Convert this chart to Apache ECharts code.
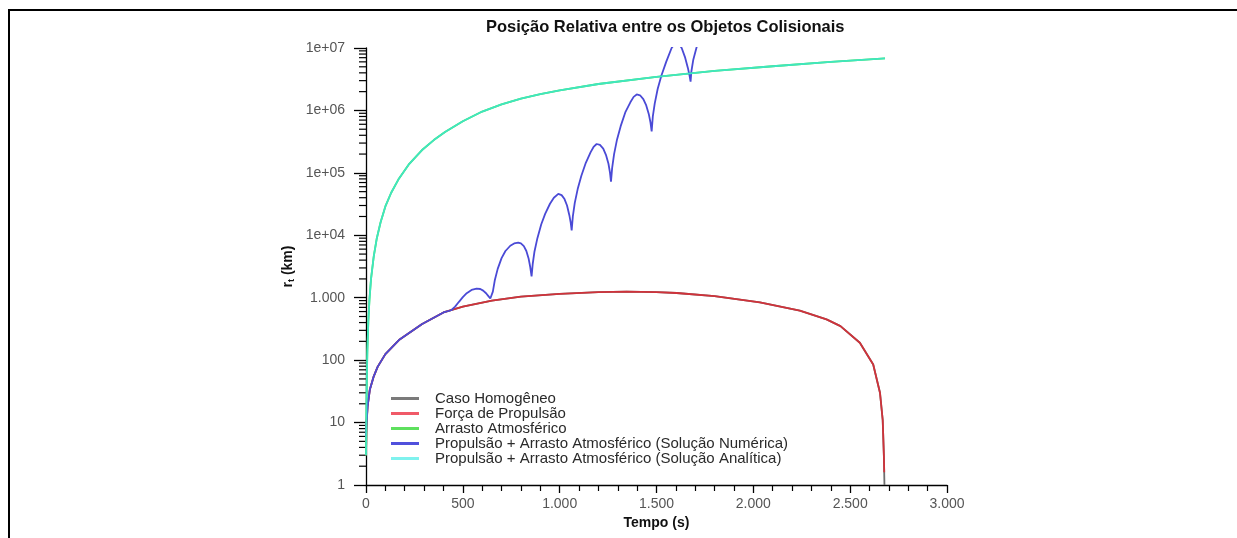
<!DOCTYPE html>
<html>
<head>
<meta charset="utf-8">
<script src="https://cdn.jsdelivr.net/npm/echarts@6/dist/echarts.min.js"></script>
<style>
  html, body { margin: 0; padding: 0; background: #fff; }
  #chart { width: 1237px; height: 538px; }
</style>
</head>
<body>
<div id="chart"></div>
<script>
// Tempo (s) e distância relativa r_t (km) de cada caso
const homogeneoT = [0, 2, 8, 20, 40, 60, 100, 170, 290, 400, 500, 650, 800, 1000, 1200, 1346, 1500, 1604, 1800, 2034, 2240, 2378, 2450, 2550, 2619, 2654, 2668, 2674, 2677];
const homogeneoV = [3, 8, 18, 34, 55, 78, 125, 210, 380, 580, 720, 900, 1040, 1150, 1230, 1250, 1230, 1190, 1060, 840, 620, 450, 350, 190, 85, 30, 11, 3, 1];

const propulsaoT = [0, 2, 8, 20, 40, 60, 100, 170, 290, 400, 500, 650, 800, 1000, 1200, 1346, 1500, 1604, 1800, 2034, 2240, 2378, 2450, 2550, 2619, 2654, 2668, 2674, 2676];
const propulsaoV = [3, 8, 18, 34, 55, 78, 125, 210, 380, 580, 720, 900, 1040, 1150, 1230, 1250, 1230, 1190, 1060, 840, 620, 450, 350, 190, 85, 30, 11, 3, 1.6];

const analiticaT = [0, 1, 2, 4, 7, 12, 18, 26, 40, 55, 75, 100, 130, 167, 220, 288, 350, 408, 500, 600, 700, 800, 900, 1000, 1200, 1500, 1800, 2100, 2400, 2680];
const analiticaV = [3, 5, 12, 45, 140, 420, 950, 2000, 4600, 8700, 16000, 29000, 48000, 78000, 135000, 230000, 335000, 450000, 670000, 960000, 1250000, 1550000, 1820000, 2100000, 2650000, 3450000, 4300000, 5100000, 6000000, 6800000];

const arrastoT = analiticaT.slice();
const arrastoV = analiticaV.slice();

const numericaT = [0, 2, 8, 20, 40, 60, 100, 170, 290, 400,
  440, 460, 480, 500, 520, 545, 571, 590, 605, 620, 632, 642,
  649, 655, 665, 680, 700, 720, 745, 765, 786, 800, 815, 828, 840, 848,
  855, 861, 870, 885, 905, 925, 950, 970, 993, 1010, 1025, 1038, 1050, 1057,
  1062, 1068, 1078, 1093, 1112, 1135, 1160, 1175, 1191, 1208, 1225, 1240, 1252, 1260,
  1265, 1271, 1281, 1296, 1315, 1340, 1365, 1382, 1398, 1415, 1432, 1447, 1460, 1469,
  1475, 1481, 1491, 1506, 1525, 1550, 1578, 1605, 1630, 1648, 1662, 1670,
  1676, 1680, 1690, 1706, 1720];
const numericaV = [6, 9, 18, 34, 55, 78, 125, 210, 380, 580,
  630, 720, 860, 1020, 1180, 1330, 1400, 1380, 1300, 1180, 1060, 970,
  920, 1250, 1900, 2900, 4300, 5600, 6800, 7400, 7600, 7400, 6700, 5600, 4200, 3100,
  2200, 3500, 5500, 9000, 15000, 22000, 32000, 40000, 46000, 44000, 38000, 30000, 21000, 16000,
  12000, 20000, 33000, 55000, 90000, 145000, 215000, 260000, 290000, 280000, 245000, 190000, 140000, 100000,
  72000, 120000, 200000, 340000, 560000, 950000, 1350000, 1650000, 1800000, 1750000, 1520000, 1200000, 880000, 640000,
  460000, 800000, 1300000, 2200000, 3600000, 6000000, 10000000, 13000000, 10000000, 7000000, 4800000, 3700000,
  2900000, 4200000, 6500000, 10000000, 14000000];

const legendNames = [
  'Caso Homogêneo',
  'Força de Propulsão',
  'Arrasto Atmosférico',
  'Propulsão + Arrasto Atmosférico (Solução Numérica)',
  'Propulsão + Arrasto Atmosférico (Solução Analítica)'
];

const yDecades = [1, 10, 100, 1000, 1e4, 1e5, 1e6, 1e7];

function zip(t, v) { return t.map((x, i) => [x, v[i]]); }
function milhar(n) { return String(n).replace(/\B(?=(\d{3})+(?!\d))/g, '.'); }
function yLabel(v) {
  if (v >= 1e4) {
    const e = Math.round(Math.log10(v));
    return '1e+' + (e < 10 ? '0' + e : e);
  }
  return milhar(Math.round(v));
}

const FONT = '"Liberation Sans", Arial, sans-serif';
const chart = echarts.init(document.getElementById('chart'), null, { renderer: 'canvas' });

function lineSeries(name, data, color, z) {
  return {
    name, type: 'line', data, showSymbol: false, symbol: 'none', z,
    lineStyle: { color, width: 1.8 }, itemStyle: { color },
    animation: false, clip: true
  };
}

const option = {
  animation: false,
  backgroundColor: '#ffffff',
  title: {
    text: 'Posição Relativa entre os Objetos Colisionais',
    left: 481, top: 14,
    textStyle: { fontFamily: FONT, fontSize: 16.5, fontWeight: 'bold', color: '#111' }
  },
  grid: { left: 366, right: 290, top: 48, bottom: 53, containLabel: false },
  legend: {
    orient: 'vertical', left: 386, top: 386,
    itemWidth: 28, itemHeight: 3, itemGap: 0,
    icon: 'rect',
    data: [
      { name: legendNames[0], itemStyle: { color: '#7a7a7a' } },
      { name: legendNames[1], itemStyle: { color: '#f05a68' } },
      { name: legendNames[2], itemStyle: { color: '#5ee05e' } },
      { name: legendNames[3], itemStyle: { color: '#5050dc' } },
      { name: legendNames[4], itemStyle: { color: '#7ff2ee' } }
    ],
    textStyle: { fontFamily: FONT, fontSize: 15, lineHeight: 14.3, color: '#2a2a2a', padding: [0, 0, 0, 11] },
    selectedMode: false
  },
  xAxis: {
    type: 'value', min: 0, max: 3000, interval: 500,
    name: 'Tempo (s)', nameLocation: 'middle', nameGap: 30,
    nameTextStyle: { fontFamily: FONT, fontSize: 14, fontWeight: 'bold', color: '#111' },
    axisLine: { show: true, onZero: false, lineStyle: { color: '#000', width: 1.3 } },
    axisTick: { show: true, length: 8, lineStyle: { color: '#000', width: 1.3 } },
    minorTick: { show: true, splitNumber: 5, length: 6, lineStyle: { color: '#000', width: 1.2 } },
    splitLine: { show: false },
    axisLabel: { fontFamily: FONT, fontSize: 14, color: '#555', margin: 12, formatter: v => milhar(v) }
  },
  yAxis: {
    type: 'log', logBase: 10, min: 1, max: 1e7, splitNumber: 7,
    name: '{a|r}{b|t}{a| (km)}', nameLocation: 'middle', nameGap: 70, nameRotate: 90,
    nameTextStyle: {
      rich: {
        a: { fontFamily: FONT, fontSize: 14, fontWeight: 'bold', color: '#111' },
        b: { fontFamily: FONT, fontSize: 9, fontWeight: 'bold', color: '#111', verticalAlign: 'bottom', padding: [7, 0, 0, 0] }
      }
    },
    axisLine: { show: true, onZero: false, lineStyle: { color: '#000', width: 1.3 } },
    axisTick: { show: true, length: 12, lineStyle: { color: '#000', width: 1.3 } },
    minorTick: { show: false },
    splitLine: { show: false },
    axisLabel: { fontFamily: FONT, fontSize: 14, color: '#555', margin: 21, formatter: yLabel }
  },
  series: [
    lineSeries(legendNames[0], zip(homogeneoT, homogeneoV), '#6e6e6e', 1),
    lineSeries(legendNames[1], zip(propulsaoT, propulsaoV), '#d0323a', 2),
    lineSeries(legendNames[2], zip(arrastoT, arrastoV), '#4ce04c', 3),
    lineSeries(legendNames[3], zip(numericaT, numericaV), '#4a4ad6', 4),
    lineSeries(legendNames[4], zip(analiticaT, analiticaV), '#3fe6c0', 5)
  ]
};

chart.setOption(option);

// Moldura da figura e subdivisões logarítmicas (2..9) no eixo r_t
function decorate() {
  const x0 = chart.convertToPixel({ xAxisIndex: 0 }, 0);
  const graphics = [
    { type: 'rect', shape: { x: 8, y: 9, width: 1229, height: 2 }, style: { fill: '#000' }, silent: true },
    { type: 'rect', shape: { x: 8, y: 9, width: 2, height: 529 }, style: { fill: '#000' }, silent: true }
  ];
  for (let d = 0; d < yDecades.length - 1; d++) {
    for (let k = 2; k <= 9; k++) {
      const y = chart.convertToPixel({ yAxisIndex: 0 }, yDecades[d] * k);
      graphics.push({
        type: 'line', silent: true,
        shape: { x1: x0 - 7, y1: y, x2: x0, y2: y },
        style: { stroke: '#000', lineWidth: 1.2 }
      });
    }
  }
  chart.setOption({ graphic: graphics });
}
decorate();
</script>
</body>
</html>
